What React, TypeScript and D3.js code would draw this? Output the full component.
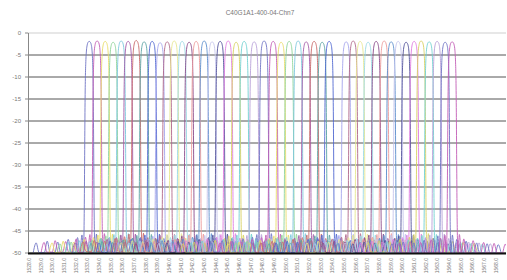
import * as d3 from "d3";
import React from "react";

// 図のタイトル
const title = "C40G1A1-400-04-Chn7";

// x軸ラベル (波長 nm)
const xLabels = d3.range(1528, 1569, 1).map((v) => v.toFixed(1));

// y軸目盛 (dB)
const yTicks = [0, -5, -10, -15, -20, -25, -30, -35, -40, -45, -50];

// 各チャンネルの中心波長
const channelCenters = [
  1533.15, 1533.83, 1534.52, 1535.2, 1535.89, 1536.49, 1537.18, 1537.86,
  1538.55, 1539.23, 1539.84, 1540.44, 1541.12, 1541.72, 1542.32, 1543.01,
  1543.69, 1544.38, 1545.07, 1545.75, 1546.44, 1547.3, 1548.15, 1548.93,
  1549.61, 1550.3, 1551.07, 1551.76, 1552.44, 1553.13, 1553.73, 1555.19,
  1555.79, 1556.39, 1557.07, 1557.76, 1558.45, 1559.05, 1559.65, 1560.33,
  1561.02, 1561.62, 1562.31, 1562.99, 1563.68, 1564.28,
];

// 各チャンネルのピーク損失
const channelPeaks = [
  -1.9, -1.8, -1.9, -2.1, -1.8, -1.9, -1.7, -2.0, -1.9, -2.2, -2.0, -1.8,
  -1.9, -2.1, -1.9, -1.8, -2.0, -1.9, -1.8, -2.1, -1.9, -2.0, -1.8, -1.9,
  -2.1, -1.9, -1.8, -2.0, -1.9, -2.1, -1.9, -2.0, -1.8, -1.9, -2.1, -1.9,
  -1.8, -2.0, -1.9, -2.1, -1.9, -1.8, -2.0, -1.9, -2.1, -2.0,
];

// フィルタ形状 (中心からのずれ nm, ピーク比 dB)
const filterShape: [number, number][] = [
  [-4.8, -48], [-4.55, -45.8], [-4.3, -48], [-3.85, -48], [-3.6, -45.4],
  [-3.35, -48], [-2.95, -48], [-2.7, -45.6], [-2.45, -48], [-2.05, -48],
  [-1.8, -45], [-1.55, -48], [-1.2, -48], [-1.0, -44.6], [-0.8, -48],
  [-0.62, -44], [-0.5, -48], [-0.45, -44], [-0.42, -37], [-0.39, -26],
  [-0.36, -15], [-0.33, -8.5], [-0.29, -4.6], [-0.24, -2.2], [-0.17, -0.8],
  [-0.08, -0.15], [0, 0], [0.08, -0.15], [0.17, -0.7], [0.24, -2.0],
  [0.29, -4.4], [0.33, -8.8], [0.36, -16], [0.39, -27], [0.42, -38],
  [0.45, -44], [0.5, -48], [0.62, -43.8], [0.8, -48], [1.0, -44.8],
  [1.2, -48], [1.55, -48], [1.8, -45.2], [2.05, -48], [2.45, -48],
  [2.7, -45.6], [2.95, -48], [3.35, -48], [3.6, -45.8], [3.85, -48],
  [4.3, -48], [4.55, -46], [4.8, -48],
];

const palette = [
  "#6f74c4", "#c25cb6", "#e9dc6a", "#8fd49a", "#7cc6dc", "#a45aa8",
  "#c86a6a", "#5aa3a3", "#5068d0", "#a4a4ec", "#b0668a", "#e6e690",
  "#9ad8e4", "#8a4a8a", "#ec9a9a", "#5a8ccc", "#c4c4ec", "#50509a",
  "#e07ce0", "#d8d060", "#70d0d0", "#b8a0d8",
];

const W = 507;
const H = 280;

export default function App() {
  const x = d3.scaleLinear().domain([1527.9, 1568.9]).range([28, 506]);
  const y = d3.scaleLinear().domain([-50, 0]).range([253, 33]);

  const line = d3
    .line<[number, number]>()
    .x((d) => x(d[0]))
    .y((d) => y(d[1]))
    .curve(d3.curveMonotoneX);

  const curves = channelCenters.map((c, i) =>
    filterShape.map(
      ([dx, db]) =>
        [c + dx, Math.max(-50, channelPeaks[i] + db)] as [number, number]
    )
  );

  return (
    <svg
      width={W}
      height={H}
      style={{ position: "absolute", left: 0, top: 0, background: "#fff" }}
      fontFamily="Arial, 'Liberation Sans', sans-serif"
    >
      <text x={260} y={15} textAnchor="middle" fontSize={6.5} fill="#777">
        {title}
      </text>

      {/* 目盛線 */}
      {yTicks.map((t) => (
        <g key={t}>
          <line
            x1={x.range()[0]}
            x2={x.range()[1]}
            y1={y(t)}
            y2={y(t)}
            stroke={t === 0 ? "#cfcfcf" : "#555"}
            strokeWidth={1}
          />
          <line x1={25} x2={28} y1={y(t)} y2={y(t)} stroke="#888" />
          <text
            x={21}
            y={y(t) + 2}
            textAnchor="end"
            fontSize={6}
            fill="#777"
          >
            {t}
          </text>
        </g>
      ))}
      <line x1={28.5} x2={28.5} y1={y(0)} y2={y(-50)} stroke="#888" />

      {/* 各チャンネル */}
      <g clipPath="url(#plot)">
        <defs>
          <clipPath id="plot">
            <rect x={28} y={30} width={478} height={224} />
          </clipPath>
        </defs>
        {curves.map((pts, i) => (
          <path
            key={i}
            d={line(pts) ?? ""}
            fill="none"
            stroke={palette[i % palette.length]}
            strokeWidth={0.9}
          />
        ))}
      </g>

      <line
        x1={x.range()[0]}
        x2={x.range()[1]}
        y1={y(-50) + 0.5}
        y2={y(-50) + 0.5}
        stroke="#111"
        strokeWidth={2}
      />

      {/* x軸ラベル */}
      {xLabels.map((lab) => (
        <text
          key={lab}
          transform={`translate(${x(+lab) + 2}, 258) rotate(-90)`}
          textAnchor="end"
          fontSize={5}
          fill="#777"
        >
          {lab}
        </text>
      ))}
    </svg>
  );
}
